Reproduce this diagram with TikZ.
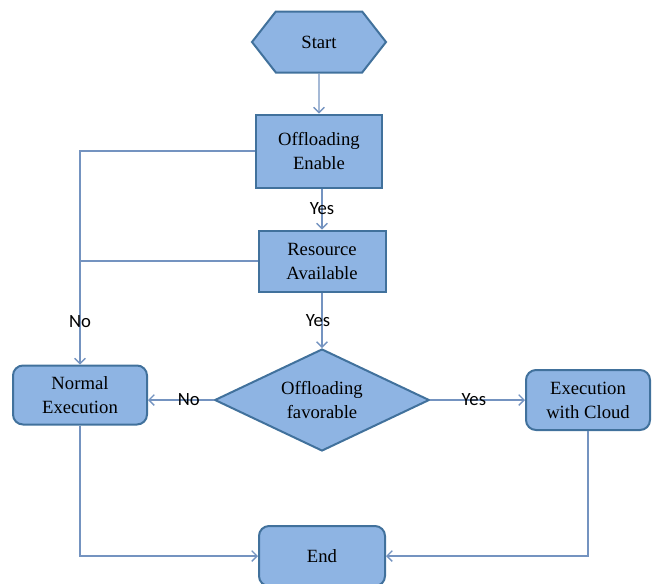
\documentclass[tikz,border=0pt]{standalone}
\usepackage{fontspec}
\setmainfont{Liberation Serif}
\newfontfamily\yesnofont{Carlito}
\usetikzlibrary{shapes.geometric,shapes.symbols,arrows.meta}

\definecolor{boxFill}{HTML}{8EB4E3}
\definecolor{boxLine}{HTML}{41719C}
\definecolor{flowLine}{HTML}{7493C0}

\tikzset{
  process/.style={draw=boxLine, fill=boxFill, line width=1.5pt, align=center,
    inner sep=0pt, font=\fontsize{14}{18}\selectfont},
  squareBox/.style={process, rectangle},
  roundBox/.style={process, rectangle, rounded corners=7.5pt},
  decision/.style={process, diamond, aspect=2.1, minimum width=161pt, minimum height=76.5pt},
  terminal/.style={process, signal, signal to=west and east, signal pointer angle=104,
    minimum width=100.5pt, minimum height=45.75pt},
  flow/.style={draw=flowLine, line width=1pt, -{Straight Barb[length=4pt,width=8pt]}},
  yesNo/.style={font=\yesnofont\fontsize{14}{16}\selectfont, inner sep=1pt}
}

\begin{document}
\begin{tikzpicture}[x=0.75pt, y=-0.75pt]
  \useasboundingbox (0,0) rectangle (652,583);

  % nodes
  \node[terminal] (start) at (319,42) {Start};
  \node[squareBox, minimum width=94.5pt, minimum height=54.75pt] (offEnable) at (319,151) {Offloading\\Enable};
  \node[squareBox, minimum width=95.25pt, minimum height=45.75pt] (resAvail) at (322,261) {Resource\\Available};
  \node[decision] (offFav) at (322,400) {Offloading\\favorable};
  \node[roundBox, minimum width=100.5pt, minimum height=44.25pt] (normalExec) at (80,395) {Normal\\Execution};
  \node[roundBox, minimum width=93pt, minimum height=45pt] (cloudExec) at (588,400) {Execution\\with Cloud};
  \node[roundBox, minimum width=94.5pt, minimum height=45pt] (endNode) at (322,556) {End};

  % connectors
  \draw[flow] (start) -- (offEnable);
  \draw[flow] (resAvail.north |- offEnable.south) -- node[yesNo]{Yes} (resAvail.north);
  \draw[flow] (resAvail) -- node[yesNo, xshift=-3pt]{Yes} (offFav);
  \draw[flow] (offEnable.west) -| node[yesNo, pos=0.9]{No} (normalExec.north);
  \draw[draw=flowLine, line width=1pt] (resAvail.west) -- (resAvail.west -| normalExec.north);
  \draw[flow] (offFav.west) -- node[yesNo, pos=0.38]{No} (offFav.west -| normalExec.east);
  \draw[flow] (offFav.east) -- node[yesNo, pos=0.46]{Yes} (cloudExec.west);
  \draw[flow] (normalExec.south) |- (endNode.west);
  \draw[flow] (cloudExec.south) |- (endNode.east);
\end{tikzpicture}
\end{document}
